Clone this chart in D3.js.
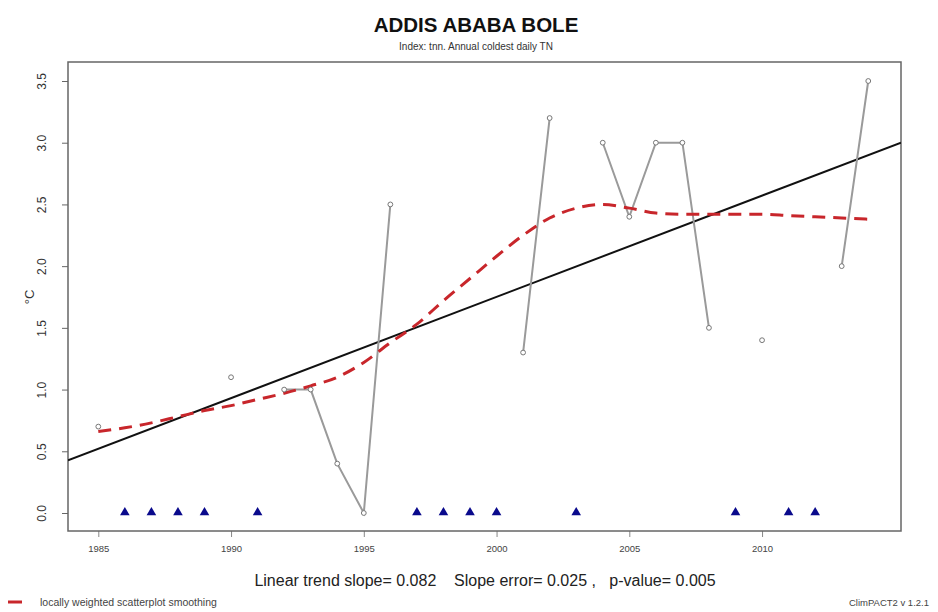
<!DOCTYPE html>
<html>
<head>
<meta charset="utf-8">
<script src="https://cdn.jsdelivr.net/npm/d3@7"></script>
<style>
  html, body { margin: 0; padding: 0; background: #fff; }
  svg { display: block; font-family: "Liberation Sans", Arial, sans-serif; }
</style>
</head>
<body>
<svg id="chart" width="938" height="612"></svg>
<script>
// Annual coldest daily minimum temperature (TNn), Addis Ababa Bole
const years = [1985, 1986, 1987, 1988, 1989, 1990, 1991, 1992, 1993, 1994,
               1995, 1996, 1997, 1998, 1999, 2000, 2001, 2002, 2003, 2004,
               2005, 2006, 2007, 2008, 2009, 2010, 2011, 2012, 2013, 2014];
// null = year with missing data (marked with a triangle on the zero line)
const tnn = [0.7, null, null, null, null, 1.1, null, 1.0, 1.0, 0.4,
             0.0, 2.5, null, null, null, null, 1.3, 3.2, null, 3.0,
             2.4, 3.0, 3.0, 1.5, null, 1.4, null, null, 2.0, 3.5];
// locally weighted scatterplot smoothing of the series
const smooth = [0.66, 0.69, 0.73, 0.78, 0.83, 0.87, 0.92, 0.97, 1.03, 1.10,
                1.22, 1.38, 1.53, 1.72, 1.90, 2.08, 2.25, 2.39, 2.47, 2.50,
                2.47, 2.43, 2.42, 2.42, 2.42, 2.42, 2.41, 2.40, 2.39, 2.38];
const xTicks = [1985, 1990, 1995, 2000, 2005, 2010];
const yTicks = [0.0, 0.5, 1.0, 1.5, 2.0, 2.5, 3.0, 3.5];
const trendSlope = 0.082;
const slopeError = 0.025;
const pValue = 0.005;

const svg = d3.select("#chart");
const box = { left: 68, right: 901, top: 62, bottom: 531 };

const x = d3.scaleLinear().domain([1985, 2014]).range([98.3, 868.25]);
const y = d3.scaleLinear().domain([0, 3.5]).range([513, 81]);

// titles
svg.append("text").attr("x", 476).attr("y", 32).attr("text-anchor", "middle")
  .attr("font-size", 20.5).attr("font-weight", "bold").attr("fill", "#111")
  .text("ADDIS ABABA BOLE");
svg.append("text").attr("x", 476).attr("y", 50).attr("text-anchor", "middle")
  .attr("font-size", 10).attr("fill", "#333")
  .text("Index: tnn. Annual coldest daily TN");

// clip for lines drawn across the plotting region
svg.append("clipPath").attr("id", "plotclip").append("rect")
  .attr("x", box.left).attr("y", box.top)
  .attr("width", box.right - box.left).attr("height", box.bottom - box.top);

// axes
const yAxis = svg.append("g").attr("transform", `translate(${box.left},0)`)
  .call(d3.axisLeft(y).tickValues(yTicks).tickFormat(d3.format(".1f")).tickSize(6));
yAxis.select(".domain").remove();
yAxis.selectAll("line").attr("stroke", "#666");
// labels run parallel to the axis
yAxis.selectAll("text").attr("font-size", 12).attr("fill", "#333")
  .attr("font-family", "Liberation Sans, Arial, sans-serif")
  .attr("text-anchor", "middle").attr("dy", null)
  .attr("x", 0).attr("y", 0)
  .attr("transform", "translate(-22,0) rotate(-90)");

const xAxis = svg.append("g").attr("transform", `translate(0,${box.bottom})`)
  .call(d3.axisBottom(x).tickValues(xTicks).tickFormat(d3.format("d")).tickSize(6).tickPadding(8));
xAxis.select(".domain").remove();
xAxis.selectAll("line").attr("stroke", "#888");
xAxis.selectAll("text").attr("font-size", 9.5).attr("fill", "#444")
  .attr("font-family", "Liberation Sans, Arial, sans-serif");

svg.append("text").attr("transform", `translate(34,${y(1.75)}) rotate(-90)`)
  .attr("text-anchor", "middle").attr("font-size", 13).attr("fill", "#333")
  .text("°C");

// plot frame
svg.append("rect").attr("x", box.left).attr("y", box.top)
  .attr("width", box.right - box.left).attr("height", box.bottom - box.top)
  .attr("fill", "none").attr("stroke", "#666").attr("stroke-width", 1.5);

const pts = years.map((yr, i) => ({ yr, v: tnn[i] }));
const obs = pts.filter(d => d.v !== null);

// linear trend through the observed years, using the reported slope
const meanT = d3.mean(obs, d => d.yr);
const meanV = d3.mean(obs, d => d.v);
const trendAt = yr => meanV + trendSlope * (yr - meanT);
const tLeft = x.invert(box.left), tRight = x.invert(box.right);
svg.append("line").attr("clip-path", "url(#plotclip)")
  .attr("x1", x(tLeft)).attr("y1", y(trendAt(tLeft)))
  .attr("x2", x(tRight)).attr("y2", y(trendAt(tRight)))
  .attr("stroke", "#111").attr("stroke-width", 2);

// observed series: segments only join consecutive years
const seriesLine = d3.line().defined(d => d.v !== null).x(d => x(d.yr)).y(d => y(d.v));
svg.append("path").datum(pts).attr("d", seriesLine)
  .attr("fill", "none").attr("stroke", "#9a9a9a").attr("stroke-width", 2);

// smoothing curve
svg.append("path").datum(years.map((yr, i) => ({ yr, v: smooth[i] })))
  .attr("d", d3.line().x(d => x(d.yr)).y(d => y(d.v)).curve(d3.curveMonotoneX))
  .attr("fill", "none").attr("stroke", "#c8262b").attr("stroke-width", 3)
  .attr("stroke-dasharray", "13,8");

// observation markers
svg.append("g").selectAll("circle").data(obs).join("circle")
  .attr("cx", d => x(d.yr)).attr("cy", d => y(d.v)).attr("r", 2.4)
  .attr("fill", "#fff").attr("stroke", "#777").attr("stroke-width", 1);

// missing years
const tri = d3.symbol().type(d3.symbolTriangle).size(40);
svg.append("g").selectAll("path").data(pts.filter(d => d.v === null)).join("path")
  .attr("d", tri)
  .attr("transform", d => `translate(${x(d.yr)},${y(0) - 0.5})`)
  .attr("fill", "#0a0a8c");

// regression statistics
svg.append("text").attr("x", 485).attr("y", 586).attr("text-anchor", "middle")
  .attr("font-size", 16).attr("fill", "#222").attr("xml:space", "preserve")
  .text(`Linear trend slope= ${trendSlope.toFixed(3)}    Slope error= ${slopeError.toFixed(3)} ,   p-value= ${pValue.toFixed(3)}`);

// legend and version tag
svg.append("line").attr("x1", 8).attr("x2", 22).attr("y1", 602).attr("y2", 602)
  .attr("stroke", "#c8262b").attr("stroke-width", 3);
svg.append("text").attr("x", 40).attr("y", 606).attr("font-size", 10.5).attr("fill", "#444")
  .text("locally weighted scatterplot smoothing");
svg.append("text").attr("x", 929).attr("y", 606).attr("text-anchor", "end")
  .attr("font-size", 9.5).attr("fill", "#444").text("ClimPACT2 v 1.2.1");
</script>
</body>
</html>
